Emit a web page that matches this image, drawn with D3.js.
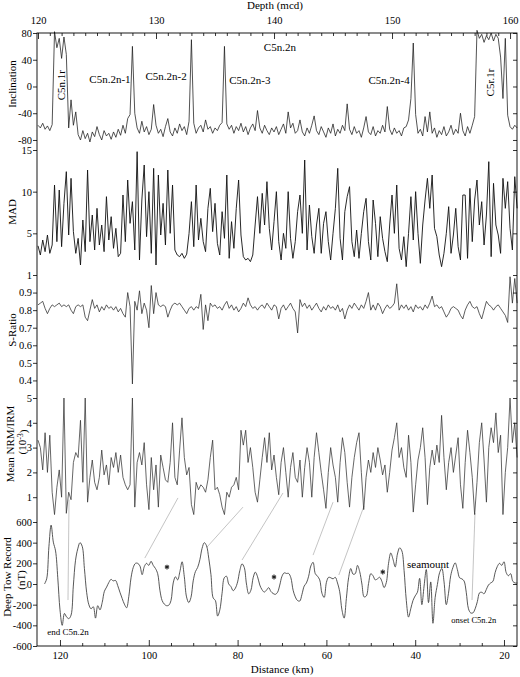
<!DOCTYPE html>
<html>
<head>
<meta charset="utf-8">
<script src="https://cdn.jsdelivr.net/npm/d3@7"></script>
<style>
  body { margin: 0; background: #fff; }
  svg text { font-family: "Liberation Serif", "Times New Roman", serif; fill: #000; }
</style>
</head>
<body>
<div id="chart"></div>
<script>
// Core records are sampled on one depth grid (mcd)
const depthStart = 120;
const depthStep = 0.2;

const inclination = [-58,-62,-55,-64,-59,-66,-57,82,58,72,
  42,74,48,-62,-20,-58,-38,-72,-80,-66,
  -78,-70,-83,-68,-75,-60,-72,-80,-66,-74,
  -70,-79,-68,-76,-64,-73,-58,-70,-48,-42,
  60,-40,-62,-70,-52,-68,-60,-72,-64,-27,
  -58,-70,-64,-75,-60,-48,-68,-74,-62,-70,
  -56,-66,-60,-72,-52,70,-55,-70,-62,-58,
  -68,-50,-64,-60,-70,-62,-66,-58,-54,60,
  -56,-64,-58,-70,-60,-66,-55,-68,-60,-72,
  -62,-56,-66,-36,-62,-70,-58,-66,-72,-62,
  -68,-60,-72,-64,-56,-70,-38,-62,-55,-70,
  -66,-50,-68,-74,-62,-70,-58,-44,-66,-72,
  -60,-68,-76,-62,-70,-56,-74,-64,-70,-58,
  -66,-26,-64,-72,-60,-70,-66,-76,-62,-45,
  -68,-72,-60,-74,-66,-70,-58,-68,-30,-64,
  -72,-62,-70,-66,-74,-62,-60,-50,-18,65,
  -42,-70,-64,-74,-45,-68,-38,-70,-62,-76,
  -66,-72,-60,-74,-68,-58,-72,-64,-70,-40,
  -66,-74,-60,-70,-58,-45,84,72,78,66,
  76,70,80,68,78,72,44,-18,72,-43,
  -60,-64,-58,-62];

const mad = [3.5,2.4,4.2,2.8,4.8,2.6,3.6,10.8,4.0,10.2,
  3.4,8.6,12.4,4.8,11.6,5.2,2.6,4.4,1.2,6.6,
  2.8,12.6,4.0,7.2,3.0,8.0,3.6,6.0,2.8,9.4,
  4.2,7.0,3.2,5.6,2.2,2.6,9.6,4.0,11.4,6.2,
  8.8,3.0,14.8,1.8,9.0,13.2,4.6,10.0,2.6,12.8,
  1.2,12.0,4.8,8.6,3.6,12.6,5.0,10.8,3.0,2.4,
  2.2,2.6,2.0,2.5,5.0,8.8,3.4,10.8,4.2,6.8,
  4.0,2.8,8.0,10.4,5.2,8.6,3.8,2.4,7.6,4.4,
  12.0,2.0,6.4,3.2,8.0,11.4,4.8,2.2,1.8,2.0,
  1.6,2.4,6.0,9.4,5.0,9.8,6.0,11.2,5.6,3.0,
  6.4,10.0,4.0,1.8,5.0,3.2,10.0,4.4,2.0,4.0,
  7.6,9.6,5.0,13.8,3.0,8.4,4.6,2.6,6.0,8.0,
  2.6,6.2,7.6,4.0,1.8,5.0,8.0,12.8,4.4,1.8,
  7.6,9.4,10.6,4.0,2.2,5.4,2.0,5.0,7.6,9.2,
  4.0,1.8,9.0,6.2,2.2,7.0,4.4,2.8,1.6,6.0,
  9.6,5.0,10.8,3.2,1.8,4.6,1.0,5.0,9.4,4.2,
  10.0,5.0,1.4,6.0,9.0,11.6,8.0,12.0,5.6,4.6,
  2.4,1.0,2.6,5.0,8.2,2.6,4.8,8.0,3.4,1.8,
  9.6,9.6,2.0,10.4,4.0,9.0,11.4,6.0,8.8,3.6,
  7.2,13.6,2.2,11.0,6.0,4.8,2.6,11.6,8.0,11.2,
  5.6,3.0,11.8,8.0];

const sRatio = [0.83,0.84,0.85,0.81,0.78,0.81,0.83,0.82,0.83,0.84,
  0.82,0.83,0.82,0.83,0.80,0.78,0.82,0.83,0.82,0.83,
  0.76,0.74,0.80,0.86,0.81,0.83,0.79,0.82,0.80,0.83,
  0.81,0.82,0.80,0.82,0.79,0.81,0.78,0.76,0.90,0.82,
  0.38,0.85,0.80,0.91,0.78,0.84,0.80,0.70,0.94,0.78,
  0.90,0.83,0.82,0.83,0.82,0.76,0.80,0.83,0.84,0.83,
  0.84,0.82,0.80,0.78,0.81,0.82,0.80,0.82,0.81,0.89,
  0.69,0.83,0.74,0.84,0.82,0.83,0.81,0.82,0.80,0.83,
  0.85,0.81,0.83,0.80,0.82,0.79,0.81,0.84,0.82,0.87,
  0.83,0.81,0.82,0.80,0.82,0.83,0.81,0.84,0.82,0.80,
  0.83,0.82,0.75,0.81,0.83,0.80,0.82,0.84,0.81,0.79,
  0.67,0.86,0.82,0.84,0.81,0.83,0.80,0.82,0.84,0.81,
  0.79,0.82,0.80,0.83,0.81,0.82,0.80,0.83,0.79,0.81,
  0.75,0.80,0.83,0.81,0.84,0.82,0.80,0.83,0.81,0.85,
  0.90,0.80,0.83,0.80,0.84,0.82,0.78,0.81,0.83,0.81,
  0.82,0.84,0.95,0.80,0.83,0.81,0.83,0.80,0.82,0.79,
  0.83,0.81,0.82,0.80,0.83,0.81,0.84,0.88,0.82,0.83,
  0.81,0.82,0.79,0.76,0.78,0.81,0.82,0.81,0.80,0.77,
  0.75,0.80,0.83,0.85,0.82,0.81,0.82,0.78,0.75,0.80,
  0.85,0.83,0.82,0.80,0.82,0.83,0.81,0.79,0.77,0.73,
  0.99,0.84,0.98,0.84];

const nrmIrm = [3.3,3.0,2.1,3.6,2.0,3.5,1.2,0.3,1.4,2.1,
  1.0,5.0,0.35,1.2,0.9,2.4,2.8,2.6,4.1,1.6,
  5.0,0.8,1.8,2.5,1.6,1.3,1.8,2.9,1.9,2.3,
  1.5,2.6,2.2,2.8,2.0,2.7,1.8,1.5,1.3,1.5,
  5.0,0.6,2.4,2.8,2.3,3.2,1.5,0.5,2.6,1.3,
  2.3,0.6,2.7,2.2,1.7,1.6,2.4,4.0,1.8,1.5,
  2.9,4.2,2.6,1.9,2.2,0.7,0.3,1.6,1.3,1.5,
  1.4,1.2,1.7,2.6,3.3,1.3,1.4,1.1,0.6,0.3,
  1.2,1.0,1.4,1.5,1.8,1.3,3.7,3.1,3.7,2.4,
  3.0,2.2,1.2,0.8,1.7,2.6,3.4,2.4,3.6,2.1,
  2.7,1.8,1.1,2.4,3.0,2.0,1.0,2.2,2.8,1.8,
  1.6,2.5,1.0,2.2,3.0,2.4,1.0,2.6,3.6,2.8,
  2.0,1.3,0.55,2.0,3.0,2.3,1.8,0.8,2.4,3.4,
  2.8,1.6,0.6,1.8,2.6,3.2,3.6,2.0,0.5,1.8,
  2.5,2.0,2.8,2.2,3.0,2.5,1.9,2.3,1.2,2.0,
  2.9,3.4,4.0,2.6,3.0,2.2,1.8,3.5,2.4,0.4,
  1.5,2.5,3.0,3.8,2.6,0.7,2.2,2.9,2.3,3.1,
  2.4,4.3,2.6,1.3,2.4,3.0,2.0,2.7,3.4,1.5,
  0.55,2.4,3.7,2.8,1.8,0.3,1.6,3.2,4.0,2.5,
  0.8,3.0,3.8,3.2,4.4,2.8,3.5,0.3,2.0,3.0,
  5.0,3.2,4.0,2.6];

// Deep tow magnetic record (nT), every 0.5 km of distance
const towStartKm = 123.5;
const towStepKm = 0.5;
const deepTow = [0,50,360,570,405,320,60,-250,-400,-285,
  -320,-335,-300,-20,230,340,400,365,150,-80,
  -200,-240,-220,-330,-210,-250,-180,-70,-30,15,
  45,30,35,-15,-80,-140,-195,-230,-120,60,
  160,200,200,175,90,170,200,180,220,180,
  150,100,-60,-160,-195,-210,-205,-160,10,70,
  40,120,215,70,-125,-180,-130,30,120,160,
  235,345,400,370,250,90,-135,-160,-310,-250,
  -90,60,75,0,-25,-65,-40,20,130,195,
  160,0,-95,-60,60,115,70,-10,-55,-78,
  -60,-35,-72,-92,-100,-80,-10,75,108,102,
  102,60,-60,-125,-160,-165,-100,-20,10,75,
  175,210,100,75,40,-90,-130,15,65,60,
  50,65,10,-75,-250,-330,-140,60,150,95,
  100,180,120,0,-125,-115,5,100,80,40,
  50,65,25,-35,15,200,300,240,165,290,
  350,320,130,-160,-320,-240,-160,-115,-80,55,
  -200,-20,140,-180,20,-380,-130,-5,110,150,
  20,-200,-90,80,160,205,140,60,50,30,
  -80,-240,-280,-280,-240,-170,-85,-80,-95,-55,
  -10,10,25,110,170,200,180,215,110,80,
  100,25,10,10];

// Tick labels
const depthTicks = [120, 130, 140, 150, 160];
const distTicks = [120, 100, 80, 60, 40, 20];
const incTicks = [-80, -40, 0, 40, 80];
const madTicks = [5, 10, 15];
const srTicks = [0.4, 0.5, 0.6, 0.7, 0.8, 0.9, 1];
const nrmTicks = [1, 2, 3, 4, 5];
const towTicks = [-600, -400, -200, 0, 200, 400, 600];

// Polarity labels on the inclination panel: text, depth, inclination, rotated
const chronText = ['C5n.1r', 'C5n.2n-1', 'C5n.2n-2', 'C5n.2n-3', 'C5n.2n', 'C5n.2n-4', 'C5r.1r'];
const chronDepth = [122.0, 126.1, 130.85, 137.95, 140.5, 149.75, 158.3];
const chronInc = [2, 10.5, 15, 10, 59, 10, 6];
const chronRotated = [true, false, false, false, false, false, true];

// Tie lines from core depth (NRM panel) to distance (deep tow panel)
const tieDepth = [122.63, 131.86, 137.37, 140.76, 145.0, 147.63, 157.03];
const tieNrm = [0.9, 0.97, 0.6, 1.17, 0.8, 0.65, 0.36];
const tieKm = [118.2, 100.9, 86.9, 79.0, 63.0, 57.2, 27.2];
const tieTow = [-155, 251, 357, 232, 280, 87, -155];

// Notes on the deep tow panel
const towNoteText = ['end C5n.2n', 'onset C5n.2n', 'seamount'];
const towNoteKm = [118.2, 26.8, 37.1];
const towNoteVal = [-464, -348, 193];
const towNoteSize = [9, 8.5, 11];
const starKm = [95.9, 71.8, 47.3];
const starVal = [164, 68, 116];

// Layout
const W = 520, H = 677;
const plotLeft = 37, plotRight = 517, plotTop = 33, plotBottom = 646;

const svg = d3.select('#chart').append('svg')
  .attr('width', W)
  .attr('height', H);

const x = d3.scaleLinear().domain([119.915, 160.59]).range([plotLeft, plotRight]);
const xKm = d3.scaleLinear().domain([125.18, 17.07]).range([plotLeft, plotRight]);

// one entry per stacked panel
const panels = [
  { values: inclination, y: d3.scaleLinear().domain([-95, 80]).range([150, plotTop]), ticks: incTicks, color: '#1a1a1a', width: 0.75 },
  { values: mad, y: d3.scaleLinear().domain([0, 15]).range([275, 150]), ticks: madTicks, color: '#111', width: 0.9 },
  { values: sRatio, y: d3.scaleLinear().domain([0.3, 1]).range([398, 275]), ticks: srTicks, color: '#2a2a2a', width: 0.75 },
  { values: nrmIrm, y: d3.scaleLinear().domain([0, 5]).range([522, 398]), ticks: nrmTicks, color: '#333', width: 0.75 }
];
const yTow = d3.scaleLinear().domain([-600, 600]).range([plotBottom, 522]);

// tie lines go under the data
svg.append('g')
  .selectAll('line')
  .data(tieDepth)
  .enter()
  .append('line')
  .attr('x1', (d) => x(d))
  .attr('y1', (d, i) => panels[3].y(tieNrm[i]))
  .attr('x2', (d, i) => xKm(tieKm[i]))
  .attr('y2', (d, i) => yTow(tieTow[i]))
  .attr('stroke', '#b5b5b5')
  .attr('stroke-width', 0.8);

panels.forEach((p) => {
  const line = d3.line()
    .x((d, i) => x(depthStart + i * depthStep))
    .y((d) => p.y(d));
  svg.append('path')
    .datum(p.values)
    .attr('d', line)
    .attr('fill', 'none')
    .attr('stroke', p.color)
    .attr('stroke-width', p.width)
    .attr('stroke-linejoin', 'round');

  const ax = svg.append('g')
    .attr('transform', 'translate(' + plotLeft + ',0)')
    .call(d3.axisLeft(p.y).tickValues(p.ticks).tickSize(4).tickPadding(1).tickFormat((d) => String(d)));
  ax.select('.domain').remove();

  const axr = svg.append('g')
    .attr('transform', 'translate(' + plotRight + ',0)')
    .call(d3.axisRight(p.y).tickValues(p.ticks).tickSize(-4).tickFormat(''));
  axr.select('.domain').remove();
});

// deep tow curve
const towLine = d3.line()
  .x((d, i) => xKm(towStartKm - i * towStepKm))
  .y((d) => yTow(d))
  .curve(d3.curveCatmullRom.alpha(0.5));
svg.append('path')
  .datum(deepTow)
  .attr('d', towLine)
  .attr('fill', 'none')
  .attr('stroke', '#3a3a3a')
  .attr('stroke-width', 0.85);

const axTow = svg.append('g')
  .attr('transform', 'translate(' + plotLeft + ',0)')
  .call(d3.axisLeft(yTow).tickValues(towTicks).tickSize(4).tickPadding(1).tickFormat((d) => String(d)));
axTow.select('.domain').remove();
const axTowR = svg.append('g')
  .attr('transform', 'translate(' + plotRight + ',0)')
  .call(d3.axisRight(yTow).tickValues(towTicks).tickSize(-4).tickFormat(''));
axTowR.select('.domain').remove();

// top depth axis, ticks pointing in
const axTop = svg.append('g')
  .attr('transform', 'translate(0,' + plotTop + ')')
  .call(d3.axisTop(x).tickValues(depthTicks).tickSize(-6).tickPadding(9).tickFormat((d) => String(d)));
axTop.select('.domain').remove();
const axTopMinor = svg.append('g')
  .attr('transform', 'translate(0,' + plotTop + ')')
  .call(d3.axisTop(x).tickValues(d3.range(121, 161).filter((d) => d % 10 !== 0)).tickSize(-3).tickFormat(''));
axTopMinor.select('.domain').remove();

// bottom distance axis
const axBot = svg.append('g')
  .attr('transform', 'translate(0,' + plotBottom + ')')
  .call(d3.axisBottom(xKm).tickValues(distTicks).tickSize(-6).tickPadding(6).tickFormat((d) => String(d)));
axBot.select('.domain').remove();
const axBotMinor = svg.append('g')
  .attr('transform', 'translate(0,' + plotBottom + ')')
  .call(d3.axisBottom(xKm).tickValues(d3.range(25, 125, 5).filter((d) => d % 20 !== 0)).tickSize(-3).tickFormat(''));
axBotMinor.select('.domain').remove();

svg.selectAll('.tick text').attr('font-size', 10.5).attr('font-family', '"Liberation Serif", serif');
svg.selectAll('.tick line').attr('stroke', '#000').attr('stroke-width', 0.8);

// frame
svg.append('rect')
  .attr('x', plotLeft).attr('y', plotTop)
  .attr('width', plotRight - plotLeft).attr('height', plotBottom - plotTop)
  .attr('fill', 'none')
  .attr('stroke', '#000')
  .attr('stroke-width', 0.9);

// axis titles
svg.append('text').attr('x', 275).attr('y', 9).attr('text-anchor', 'middle').attr('font-size', 11).text('Depth (mcd)');
svg.append('text').attr('x', 282).attr('y', 673).attr('text-anchor', 'middle').attr('font-size', 11).text('Distance (km)');

function sideTitle(cx, cy, txt) {
  return svg.append('text')
    .attr('transform', 'translate(' + cx + ',' + cy + ') rotate(-90)')
    .attr('text-anchor', 'middle')
    .attr('dy', '0.35em')
    .attr('font-size', 11)
    .text(txt);
}
sideTitle(12, 84, 'Inclination');
sideTitle(12, 212, 'MAD');
sideTitle(12, 330, 'S-Ratio');
sideTitle(10, 444, 'Mean NRM/IRM');
const unitNrm = sideTitle(22, 442, '(10');
unitNrm.append('tspan').attr('dy', '-0.4em').attr('font-size', 8).text('-3');
unitNrm.append('tspan').attr('dy', '0.4em').text(')');
sideTitle(7, 577, 'Deep Tow Record');
sideTitle(21, 580, '(nT)');

// chron labels
chronText.forEach((t, i) => {
  const px = x(chronDepth[i]);
  const py = panels[0].y(chronInc[i]);
  svg.append('text')
    .attr('transform', 'translate(' + px + ',' + py + ')' + (chronRotated[i] ? ' rotate(-90)' : ''))
    .attr('text-anchor', 'middle')
    .attr('dy', '0.35em')
    .attr('font-size', 11)
    .text(t);
});

// notes on the deep tow record
towNoteText.forEach((t, i) => {
  svg.append('text')
    .attr('x', xKm(towNoteKm[i]))
    .attr('y', yTow(towNoteVal[i]))
    .attr('text-anchor', 'middle')
    .attr('dy', '0.35em')
    .attr('font-size', towNoteSize[i])
    .text(t);
});

// asterisks marking anomalies
svg.append('g')
  .selectAll('path')
  .data(starKm)
  .enter()
  .append('path')
  .attr('d', d3.symbol(d3.symbolAsterisk, 16))
  .attr('transform', (d, i) => 'translate(' + xKm(d) + ',' + yTow(starVal[i]) + ')')
  .attr('fill', 'none')
  .attr('stroke', '#222')
  .attr('stroke-width', 1.1);
</script>
</body>
</html>
